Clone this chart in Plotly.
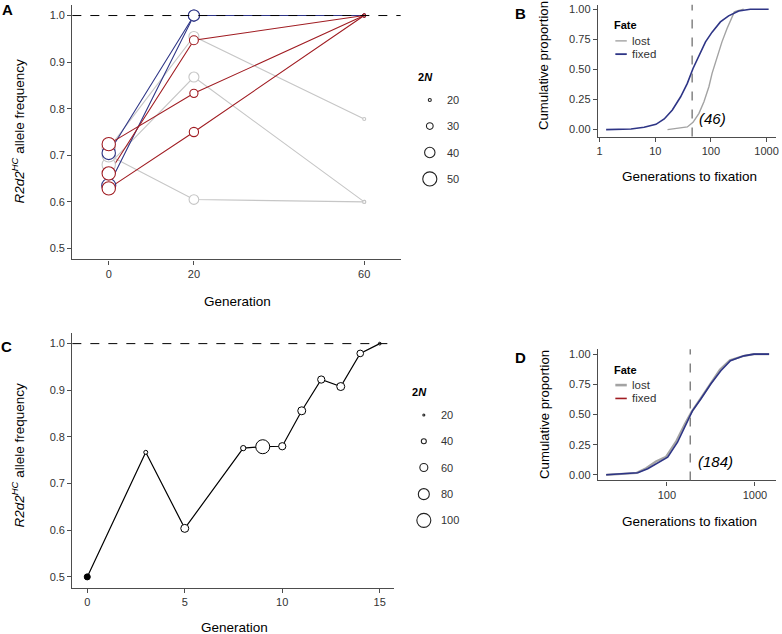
import plotly.graph_objects as go

W, H = 782, 634
FONT = "Liberation Sans, Arial, Helvetica, sans-serif"
AX = "#4d4d4d"
TXT = "#333333"

def px(x):
    return x / W

def py(y):
    return 1 - y / H

# ---------------- Panel A data ----------------
gen_A = [0, 20, 60]
fate_A = ["lost", "lost", "lost", "fixed_blue", "fixed_blue", "fixed_red", "fixed_red", "fixed_red"]
freq_A = [
    [0.715, 0.955, 0.778],
    [0.680, 0.868, 0.600],
    [0.700, 0.605, 0.600],
    [0.705, 1.000, 1.000],
    [0.635, 1.000, 1.000],
    [0.724, 0.833, 1.000],
    [0.661, 0.947, 1.000],
    [0.629, 0.750, 1.000],
]
twoN_A = [
    [48, 39, 20],
    [48, 39, 20],
    [48, 38, 20],
    [48, 42, 20],
    [50, 42, 20],
    [48, 34, 20],
    [48, 36, 20],
    [48, 37, 20],
]
legend_twoN_A = [20, 30, 40, 50]

# ---------------- Panel B data ----------------
b_fixed_gen = [1.31, 3.67, 6.3, 10.3, 14.5, 20.3, 28.6, 37.7, 47.7, 61, 80, 105, 148, 208, 316, 510, 1090]
b_fixed_cum = [0, 0.005, 0.02, 0.044, 0.088, 0.163, 0.273, 0.384, 0.508, 0.619, 0.729, 0.81, 0.895, 0.945, 0.986, 1.0, 1.0]
b_lost_gen = [16.6, 37.7, 47.7, 61, 75, 92, 105, 129, 158, 195, 240, 264, 295, 388]
b_lost_cum = [0, 0.022, 0.06, 0.135, 0.232, 0.356, 0.467, 0.605, 0.729, 0.84, 0.936, 0.978, 0.986, 1.0]
b_median = 46

# ---------------- Panel C data ----------------
gen_C = [0, 3, 5, 8, 9, 10, 11, 12, 13, 14, 15]
freq_C = [0.5, 0.767, 0.604, 0.776, 0.779, 0.780, 0.856, 0.923, 0.908, 0.979, 1.0]
twoN_C = [47, 33, 60, 42, 100, 55, 60, 55, 60, 51, 25]
legend_twoN_C = [20, 40, 60, 80, 100]

# ---------------- Panel D data ----------------
d_fixed_gen = [20.4, 46.7, 60.5, 78.5, 102, 132, 164, 195, 243, 315, 410, 527, 750, 975, 1450]
d_fixed_cum = [0, 0.017, 0.05, 0.10, 0.146, 0.27, 0.41, 0.53, 0.628, 0.752, 0.862, 0.945, 0.986, 1.0, 1.0]
d_lost_gen = [20.4, 45, 58, 75, 98, 128, 160, 190, 240, 310, 400, 520, 740, 980, 1450]
d_lost_cum = [0, 0.015, 0.055, 0.11, 0.15, 0.28, 0.42, 0.52, 0.63, 0.755, 0.87, 0.95, 0.985, 1.0, 1.0]
d_median = 184

COL = {"lost": "#c6c6c6", "fixed_red": "#a01c22", "fixed_blue": "#2e3586"}
NAVY = "#2e3586"
GREY_B = "#a3a3a3"


def size_A(n):
    return 3 + (n - 20) * 0.37


def size_C(n):
    return 2 + (n - 20) * 0.15


fig = go.Figure()

# Panel A: lines first, then points
order_A = [0, 1, 2, 3, 4, 5, 6, 7]
for i in order_A:
    fig.add_trace(go.Scatter(x=gen_A, y=freq_A[i], mode="lines",
                             line=dict(color=COL[fate_A[i]], width=1.1),
                             xaxis="x", yaxis="y", showlegend=False, hoverinfo="skip"))
for i in order_A:
    fig.add_trace(go.Scatter(x=gen_A, y=freq_A[i], mode="markers",
                             marker=dict(size=[size_A(n) for n in twoN_A[i]], color="white", opacity=1,
                                         line=dict(color=COL[fate_A[i]], width=1.1)),
                             xaxis="x", yaxis="y", showlegend=False))

# Panel B
fig.add_trace(go.Scatter(x=b_lost_gen, y=b_lost_cum, mode="lines",
                         line=dict(color=GREY_B, width=1.4), xaxis="x2", yaxis="y2", showlegend=False))
fig.add_trace(go.Scatter(x=b_fixed_gen, y=b_fixed_cum, mode="lines",
                         line=dict(color=NAVY, width=1.6), xaxis="x2", yaxis="y2", showlegend=False))

# Panel C
fig.add_trace(go.Scatter(x=gen_C, y=freq_C, mode="lines", line=dict(color="black", width=1.2),
                         xaxis="x3", yaxis="y3", showlegend=False, hoverinfo="skip"))
fig.add_trace(go.Scatter(x=gen_C, y=freq_C, mode="markers",
                         marker=dict(size=[size_C(n) for n in twoN_C], opacity=1,
                                     color=["black"] + ["white"] * (len(gen_C) - 1),
                                     line=dict(color="black", width=1)),
                         xaxis="x3", yaxis="y3", showlegend=False))

# Panel D
fig.add_trace(go.Scatter(x=d_lost_gen, y=d_lost_cum, mode="lines",
                         line=dict(color=GREY_B, width=2.2), xaxis="x4", yaxis="y4", showlegend=False))
fig.add_trace(go.Scatter(x=d_fixed_gen, y=d_fixed_cum, mode="lines",
                         line=dict(color=NAVY, width=1.6), xaxis="x4", yaxis="y4", showlegend=False))

# ---------------- Legends (overlay pixel axis) ----------------
leg_y_A = [98.3, 124.5, 151, 177.5]
fig.add_trace(go.Scatter(x=[431] * len(legend_twoN_A), y=leg_y_A, mode="markers",
                         marker=dict(size=[size_A(n) for n in legend_twoN_A], color="white", opacity=1,
                                     line=dict(color="#222", width=1.1)),
                         xaxis="x5", yaxis="y5", showlegend=False, hoverinfo="skip"))
leg_y_C = [414.3, 440.7, 467, 493.7, 520]
fig.add_trace(go.Scatter(x=[425] * len(legend_twoN_C), y=leg_y_C, mode="markers",
                         marker=dict(size=[size_C(n) for n in legend_twoN_C], color="white", opacity=1,
                                     line=dict(color="#222", width=1.1)),
                         xaxis="x5", yaxis="y5", showlegend=False, hoverinfo="skip"))
# Fate keys
for (yk, col, wd) in [(39, GREY_B, 1.4), (52.3, NAVY, 1.8), (384.3, GREY_B, 2.6), (397.7, COL["fixed_red"], 1.6)]:
    fig.add_trace(go.Scatter(x=[617.5, 629], y=[yk, yk], mode="lines", line=dict(color=col, width=wd),
                             xaxis="x5", yaxis="y5", showlegend=False, hoverinfo="skip"))

ann = []

def text(x, y, s, size=11, xanchor="left", bold=False, italic=False, angle=0, color=TXT):
    if italic:
        s = "<i>" + s + "</i>"
    if bold:
        s = "<b>" + s + "</b>"
    ann.append(dict(x=px(x), y=py(y), xref="paper", yref="paper", text=s, showarrow=False,
                    xanchor=xanchor, yanchor="middle", textangle=angle,
                    font=dict(family=FONT, size=size, color=color)))

# panel letters
text(7, 8, "A", size=15, xanchor="center", bold=True, color="black")
text(522, 12, "B", size=15, xanchor="center", bold=True, color="black")
text(6, 346, "C", size=15, xanchor="center", bold=True, color="black")
text(522, 357, "D", size=15, xanchor="center", bold=True, color="black")

ytitle = "<i>R2d2</i><sup><i>HC</i></sup> allele frequency"
text(17, 130, ytitle, size=13.5, xanchor="center", angle=-90, color="black")
text(17, 455, ytitle, size=13.5, xanchor="center", angle=-90, color="black")
text(546, 64, "Cumulative proportion", size=13.2, xanchor="center", angle=-90, color="black")
text(546, 414, "Cumulative proportion", size=13.2, xanchor="center", angle=-90, color="black")
text(238, 300, "Generation", size=13.5, xanchor="center", color="black")
text(235, 627, "Generation", size=13.5, xanchor="center", color="black")
text(692, 175, "Generations to fixation", size=13.5, xanchor="center", color="black")
text(692, 521.5, "Generations to fixation", size=13.5, xanchor="center", color="black")

# size legends
text(417, 75, "2<i>N</i>", size=11, bold=True, color="black")
for n, yy in zip(legend_twoN_A, leg_y_A):
    text(446.5, yy, str(n), size=11)
text(411, 391, "2<i>N</i>", size=11, bold=True, color="black")
for n, yy in zip(legend_twoN_C, leg_y_C):
    text(440.5, yy, str(n), size=11)

# Fate legends
text(614, 23, "Fate", size=11, bold=True, color="black")
text(632, 39, "lost", size=11.5)
text(632, 52.3, "fixed", size=11.5)
text(614, 369, "Fate", size=11, bold=True, color="black")
text(632, 384.3, "lost", size=11.5)
text(632, 397.7, "fixed", size=11.5)

# medians
text(700, 117, "(46)", size=15, italic=True, color="black")
text(699, 461, "(184)", size=15, italic=True, color="black")

shapes = [
    dict(type="line", xref="x domain", yref="y", x0=0, x1=1, y0=1.0, y1=1.0,
         line=dict(color="black", width=1, dash="dash")),
    dict(type="line", xref="x3 domain", yref="y3", x0=0, x1=1, y0=1.0, y1=1.0,
         line=dict(color="black", width=1, dash="dash")),
    dict(type="line", xref="x2", yref="y2 domain", x0=b_median, x1=b_median, y0=0, y1=1,
         line=dict(color="#666", width=1.2, dash="dash")),
    dict(type="line", xref="x4", yref="y4 domain", x0=d_median, x1=d_median, y0=0, y1=1,
         line=dict(color="#666", width=1.2, dash="dash")),
]

axc = dict(showline=True, linecolor=AX, linewidth=1.4, ticks="outside", ticklen=4, tickwidth=1,
           tickcolor=AX, showgrid=False, zeroline=False, mirror=False,
           tickfont=dict(family=FONT, size=11, color=TXT))

fig.update_layout(
    width=W, height=H, margin=dict(l=0, r=0, t=0, b=0),
    paper_bgcolor="white", plot_bgcolor="rgba(0,0,0,0)", showlegend=False,
    xaxis=dict(domain=[px(71.7), px(401.7)], range=[-8.55, 68.55], tickvals=gen_A, anchor="y", **axc),
    yaxis=dict(domain=[py(258.3), py(3.3)], range=[0.4764, 1.022], tickvals=[0.5, 0.6, 0.7, 0.8, 0.9, 1.0],
               tickformat=".1f", anchor="x", **axc),
    xaxis2=dict(domain=[px(600), px(779)], type="log", range=[-0.03, 3.17], tickvals=[1, 10, 100, 1000],
                ticktext=["1", "10", "100", "1000"], anchor="y2", **axc),
    yaxis2=dict(domain=[py(135), py(2.7)], range=[-0.058, 1.038], tickvals=[0, 0.25, 0.5, 0.75, 1.0],
                tickformat=".2f", anchor="x2", **axc),
    xaxis3=dict(domain=[px(71.7), px(395)], range=[-0.765, 15.73], tickvals=[0, 5, 10, 15], anchor="y3", **axc),
    yaxis3=dict(domain=[py(587.7), py(331.7)], range=[0.4765, 1.0235], tickvals=[0.5, 0.6, 0.7, 0.8, 0.9, 1.0],
                tickformat=".1f", anchor="x3", **axc),
    xaxis4=dict(domain=[px(600), px(779)], type="log", range=[1.216, 3.24], tickvals=[100, 1000],
                ticktext=["100", "1000"], anchor="y4", **axc),
    yaxis4=dict(domain=[py(480), py(348.3)], range=[-0.047, 1.041], tickvals=[0, 0.25, 0.5, 0.75, 1.0],
                tickformat=".2f", anchor="x4", **axc),
    xaxis5=dict(domain=[0, 1], range=[0, W], visible=False, anchor="y5", fixedrange=True),
    yaxis5=dict(domain=[0, 1], range=[H, 0], visible=False, anchor="x5", fixedrange=True),
    annotations=ann, shapes=shapes,
)

fig.write_html("out.html", config={"displayModeBar": False},
               post_script="document.body.style.margin='0px';")
